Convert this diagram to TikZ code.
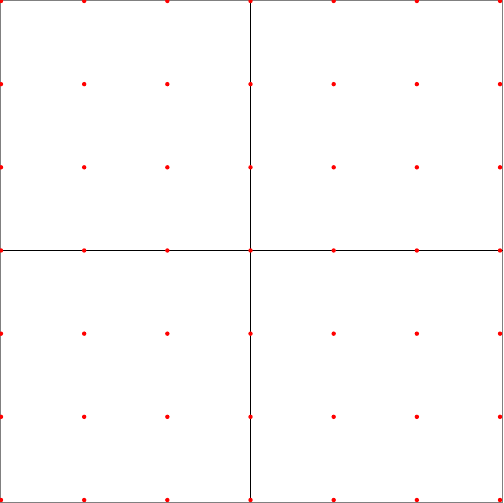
\documentclass[tikz,border=0pt]{standalone}
\usepackage{xcolor}
\usepackage{tikz}

\begin{document}
\begin{tikzpicture}[x=0.8317cm, y=0.8317cm]
    % Frame
    \useasboundingbox (-0.012,-0.036) rectangle (6.036,6.012);
    \draw[gray, line width=0.35pt] (-0.006,-0.03) rectangle (6.03,6.006);

    % Quadrant lines
    \draw[black, line width=0.35pt] (3,-0.03) -- (3,6.006);
    \draw[black, line width=0.35pt] (-0.006,3) -- (6.03,3);

    % Grid points
    \foreach \i in {0,...,6} {
        \foreach \j in {0,...,6} {
            \fill[red] (\i,\j) circle (0.022cm);
        }
    }
\end{tikzpicture}
\end{document}
